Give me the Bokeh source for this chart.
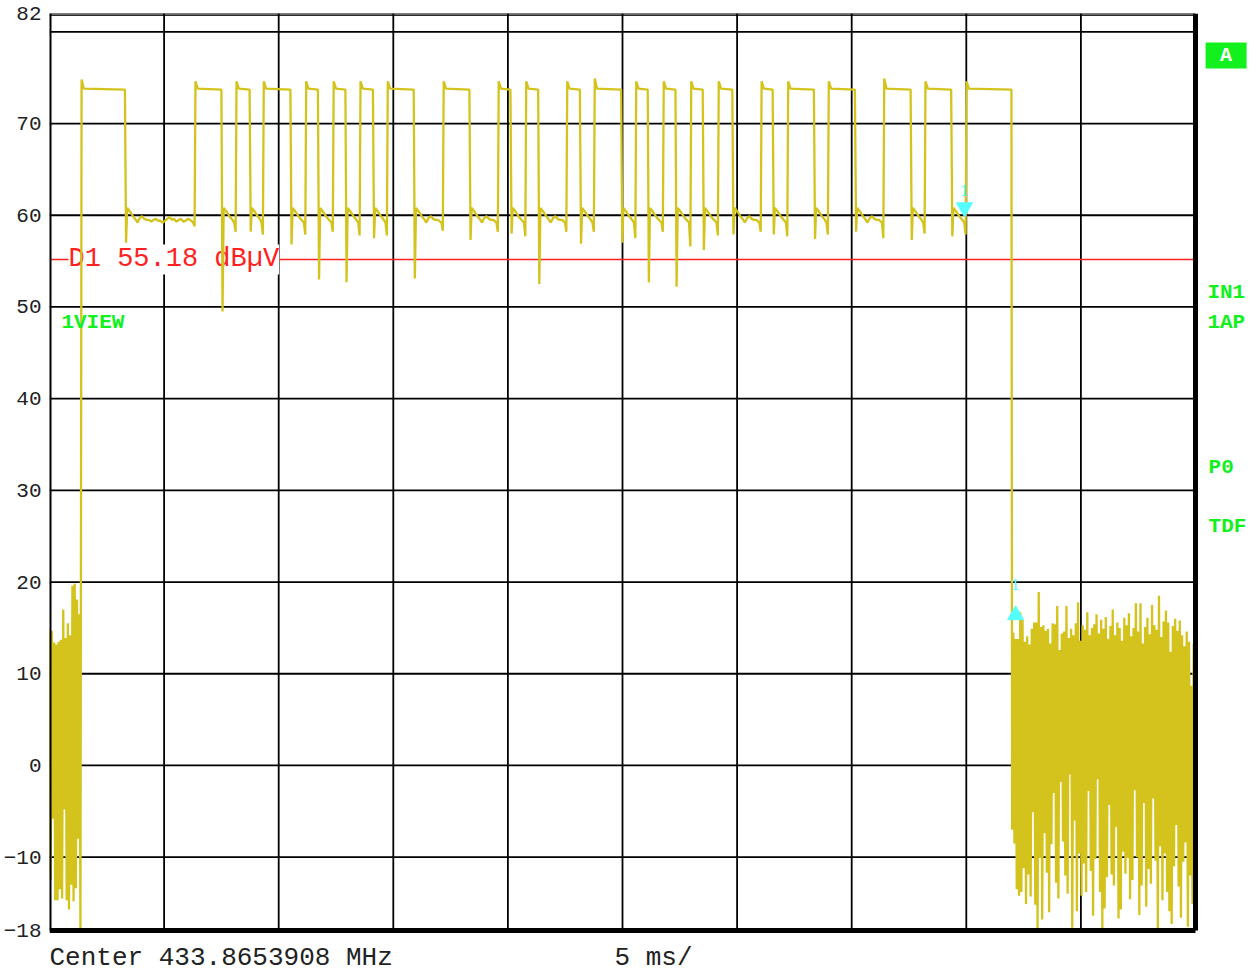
from bokeh.plotting import figure
from bokeh.models import Range1d, FixedTicker, Label, ColumnDataSource
from bokeh.embed import file_html
from bokeh.resources import INLINE

# ---------------- data ----------------
# pulse edges (ms) of the zero-span trace
rise_ms = [1.40, 6.37, 8.16, 9.35, 11.20, 12.40, 13.57, 14.76, 17.20, 19.60, 20.80, 22.59,
           23.79, 25.60, 26.80, 28.00, 29.20, 31.07, 32.23, 34.00, 36.42, 38.22, 40.01]
fall_ms = [3.29, 7.50, 8.73, 10.51, 11.71, 12.91, 14.11, 15.89, 18.32, 20.11, 21.32, 23.14,
           24.94, 26.10, 27.31, 28.50, 29.79, 31.55, 33.35, 35.14, 37.57, 39.34, 41.97]
overshoot_db = [74.8, 74.6, 74.6, 74.6, 74.6, 74.6, 74.6, 74.6, 74.6, 74.6, 74.6, 74.6,
                74.9, 74.6, 74.6, 74.6, 74.6, 74.6, 74.6, 74.6, 74.9, 74.6, 74.6]
high_db = [73.8, 73.7]
# dip right after each falling edge (pulses 1..22)
fall_dip_db = [57.0, 49.5, 58.2, 56.8, 53.0, 52.7, 57.5, 53.1, 57.3, 58.0, 52.5, 56.9,
               57.0, 52.7, 52.2, 56.2, 57.9, 57.9, 57.4, 58.2, 57.3, 57.7]
# dip right before each rising edge (pulses 2..23)
rise_dip_db = [58.8, 58.2, 57.9, 57.9, 58.2, 57.8, 57.8, 58.3, 58.2, 57.7, 58.2, 58.2,
               57.5, 58.2, 56.6, 57.8, 58.2, 57.7, 57.9, 57.5, 58.0, 57.9]
# level between pulses, sampled every 0.1 ms after the falling edge
low_peak_db = 60.8
low_ripple_db = [60.3, 59.9, 59.6, 59.2, 59.7, 59.9, 59.6, 59.5, 59.5, 59.3, 59.5, 59.6,
                 59.4, 59.4, 59.2, 59.4, 59.6, 59.8, 59.5, 59.6, 59.3, 59.5, 59.6, 59.3,
                 59.4, 59.6, 59.5, 59.3, 59.4, 59.5]
low_end_db = 59.2
sample_ms = 0.05
# noise floor before the burst (0 .. 1.35 ms)
left_noise_db = [14.8, -12.5, 14.7, -5.8, 13.4, -14.7, 13.2, -14.7, 13.5, -13.5, 13.7, -14.5,
                 17.0, -4.8, 13.9, -14.7, 15.5, -15.7, 14.2, -13.0, 19.6, -14.8, 19.8, -13.4,
                 18.1, -8.0, 16.5, -17.8]
# noise floor after the burst (42.0 .. 49.9 ms)
right_noise_db = [-7.0, 14.5, -8.5, 13.8, -13.5, 13.8, -14.2, 16.7, -13.8, 15.9, -11.2, 13.5,
                  -15.1, 14.1, -11.9, 13.2, -14.3, 14.9, -5.1, 15.6, -15.2, 15.6, -18.0, 18.9,
                  -10.1, 15.1, -16.8, 15.3, -7.4, 14.7, -11.7, 14.9, -16.0, 13.3, -8.6, 15.5,
                  -3.0, 15.4, -12.8, 17.4, -14.5, 12.6, -1.8, 14.4, -8.3, 14.6, -12.0, 17.4,
                  -14.0, 13.9, -1.0, 14.9, -17.7, 14.2, -6.0, 15.5, -15.9, 17.8, -9.6, 13.6,
                  -14.2, 15.3, -10.7, 14.8, -13.8, 16.7, -2.8, 14.2, -11.5, 15.0, -16.4, 15.4,
                  -10.2, 16.5, -1.5, 14.4, -13.8, 15.9, -18.0, 14.9, -15.6, 16.2, -12.2, 13.8,
                  -4.3, 15.2, -11.9, 17.0, -13.1, 14.2, -6.7, 15.6, -16.7, 15.0, -15.7, 13.6,
                  -9.4, 16.1, -11.8, 15.3, -10.1, 16.6, -14.6, 14.1, -12.5, 15.0, -2.7, 17.7,
                  -10.0, 14.6, -16.3, 17.7, -13.1, 13.3, -4.1, 15.1, -15.4, 16.1, -11.3, 14.3,
                  -12.9, 17.5, -3.6, 15.3, -10.4, 14.8, -17.9, 18.5, -8.8, 14.0, -14.7, 15.7,
                  -9.6, 16.9, -13.8, 15.6, -15.9, 12.4, -17.3, 15.2, -11.0, 16.0, -6.5, 14.7,
                  -13.2, 15.8, -16.6, 14.2, -10.5, 13.0, -8.4, 14.6, -17.6, 13.5, -12.0, 8.7,
                  -15.1, 13.3]
right_noise_end_ms = 49.92

display_line_db = 55.18
marker_ms = [39.92]
marker_db = [60.85]
delta_ms = [42.15]
delta_db = [16.4]

x_min, x_max = 0, 50
y_min, y_max = -18, 82
x_grid_ms = [5, 10, 15, 20, 25, 30, 35, 40, 45]
y_grid_db = [-10, 0, 10, 20, 30, 40, 50, 60, 70, 80]
y_tick_db = [-18, -10, 0, 10, 20, 30, 40, 50, 60, 70, 82]

# ---------------- build trace table ----------------
t, v = [], []
for i, val in enumerate(left_noise_db):
    t.append(i * sample_ms)
    v.append(val)
for i, (r, f) in enumerate(zip(rise_ms, fall_ms)):
    if i > 0:
        pf = fall_ms[i - 1]
        t += [pf + sample_ms, pf + 2 * sample_ms]
        v += [fall_dip_db[i - 1], low_peak_db]
        k = 0
        tt = pf + 0.25
        while tt < r - 0.15 and k < len(low_ripple_db):
            t.append(tt)
            v.append(low_ripple_db[k])
            k += 1
            tt += 0.1
        t += [r - 0.1, r - 0.04]
        v += [low_end_db, rise_dip_db[i - 1]]
    t += [r, r + 0.1, f]
    v += [overshoot_db[i], high_db[0], high_db[1]]
n_r = len(right_noise_db)
start_r = fall_ms[-1] + 0.03
step_r = (right_noise_end_ms - start_r) / (n_r - 1)
for i, val in enumerate(right_noise_db):
    t.append(start_r + i * step_r)
    v.append(val)
src = ColumnDataSource(dict(t=t, v=v))

# ---------------- figure ----------------
# frame spans the canvas to the right and bottom so the instrument
# annotations (outside the graticule) stay visible
px_per_ms = 1146 / 50.0
px_per_db = 917 / 100.0
p = figure(width=1259, height=972,
           x_range=Range1d(x_min, x_max + 64 / px_per_ms),
           y_range=Range1d(y_min - 42 / px_per_db, y_max),
           output_backend="svg", toolbar_location=None, x_axis_location=None,
           min_border_left=49, min_border_right=0, min_border_top=13, min_border_bottom=0)
p.background_fill_color = "white"
p.border_fill_color = "white"
p.outline_line_color = None
p.xgrid.visible = False
p.ygrid.visible = False

p.yaxis.ticker = FixedTicker(ticks=y_tick_db)
p.yaxis.axis_line_color = None
p.yaxis.major_tick_line_color = None
p.yaxis.minor_tick_line_color = None
p.yaxis.major_label_standoff = 2
p.yaxis.major_label_text_font = "Liberation Mono"
p.yaxis.major_label_text_font_size = "21px"
p.yaxis.major_label_text_color = "#222222"

# graticule
p.segment(x0=x_grid_ms, y0=[y_min] * len(x_grid_ms), x1=x_grid_ms, y1=[y_max] * len(x_grid_ms),
          line_color="black", line_width=1.8, level="underlay")
p.segment(x0=[x_min] * len(y_grid_db), y0=y_grid_db, x1=[x_max] * len(y_grid_db), y1=y_grid_db,
          line_color="black", line_width=1.8, level="underlay")

# display line D1 with its label (under the trace)
p.segment(x0=[x_min], y0=[display_line_db], x1=[x_max - 0.1], y1=[display_line_db],
          line_color="#ff2020", line_width=1.5, level="underlay")
p.add_layout(Label(x=0.83, y=display_line_db, text="D1 55.18 dBµV", text_color="#ff2020",
                   text_font="Liberation Mono", text_font_size="27px",
                   text_baseline="middle", text_align="left",
                   background_fill_color="white", level="underlay"))

# trace
p.line("t", "v", source=src, line_color="#d5c31d", line_width=2.3)

# graticule frame
p.segment(x0=[x_min], y0=[y_max], x1=[x_max], y1=[y_max], line_color="black", line_width=2)
p.segment(x0=[x_min], y0=[y_max - 0.2], x1=[x_max], y1=[y_max - 0.2], line_color="black", line_width=1)
p.segment(x0=[x_min], y0=[y_min], x1=[x_min], y1=[y_max], line_color="black", line_width=4)
p.segment(x0=[x_max], y0=[y_min], x1=[x_max], y1=[y_max], line_color="black", line_width=5)
p.segment(x0=[x_min], y0=[y_min], x1=[x_max], y1=[y_min], line_color="black", line_width=5)

# markers
p.scatter(marker_ms, marker_db, marker="inverted_triangle", size=16, color="#55ffff")
p.scatter(delta_ms, delta_db, marker="triangle", size=16, color="#55ffff")
p.add_layout(Label(x=marker_ms[0], y=62.7, text="1", text_color="#55ffff",
                   text_font="DejaVu Serif", text_font_size="15px",
                   text_align="center", text_baseline="middle"))
p.add_layout(Label(x=delta_ms[0], y=19.7, text="1", text_color="#55ffff",
                   text_font="DejaVu Serif", text_font_size="15px",
                   text_align="center", text_baseline="middle"))

# green status texts
green = "#12f01e"
for x, y, txt in [(0.52, 48.3, "1VIEW"), (50.52, 51.58, "IN1"), (50.52, 48.31, "1AP"),
                  (50.57, 32.5, "P0"), (50.57, 26.06, "TDF")]:
    p.add_layout(Label(x=x, y=y, text=txt, text_color=green, text_font="Liberation Mono",
                       text_font_style="bold", text_font_size="21px",
                       text_align="left", text_baseline="middle"))
# trace indicator box "A"
p.quad(left=[50.44], right=[52.23], bottom=[76.01], top=[78.84], fill_color=green, line_color=None)
p.add_layout(Label(x=51.335, y=77.43, text="A", text_color="white", text_font="Liberation Mono",
                   text_font_style="bold", text_font_size="20px", text_align="center",
                   text_baseline="middle"))

# bottom annotations
p.add_layout(Label(x=0, y=-21.05, text="Center 433.8653908 MHz", text_color="#222222",
                   text_font="Liberation Mono", text_font_size="26px",
                   text_align="left", text_baseline="middle"))
p.add_layout(Label(x=24.65, y=-21.05, text="5 ms/", text_color="#222222",
                   text_font="Liberation Mono", text_font_size="26px",
                   text_align="left", text_baseline="middle"))

open("out.html", "w").write(file_html(p, INLINE))
